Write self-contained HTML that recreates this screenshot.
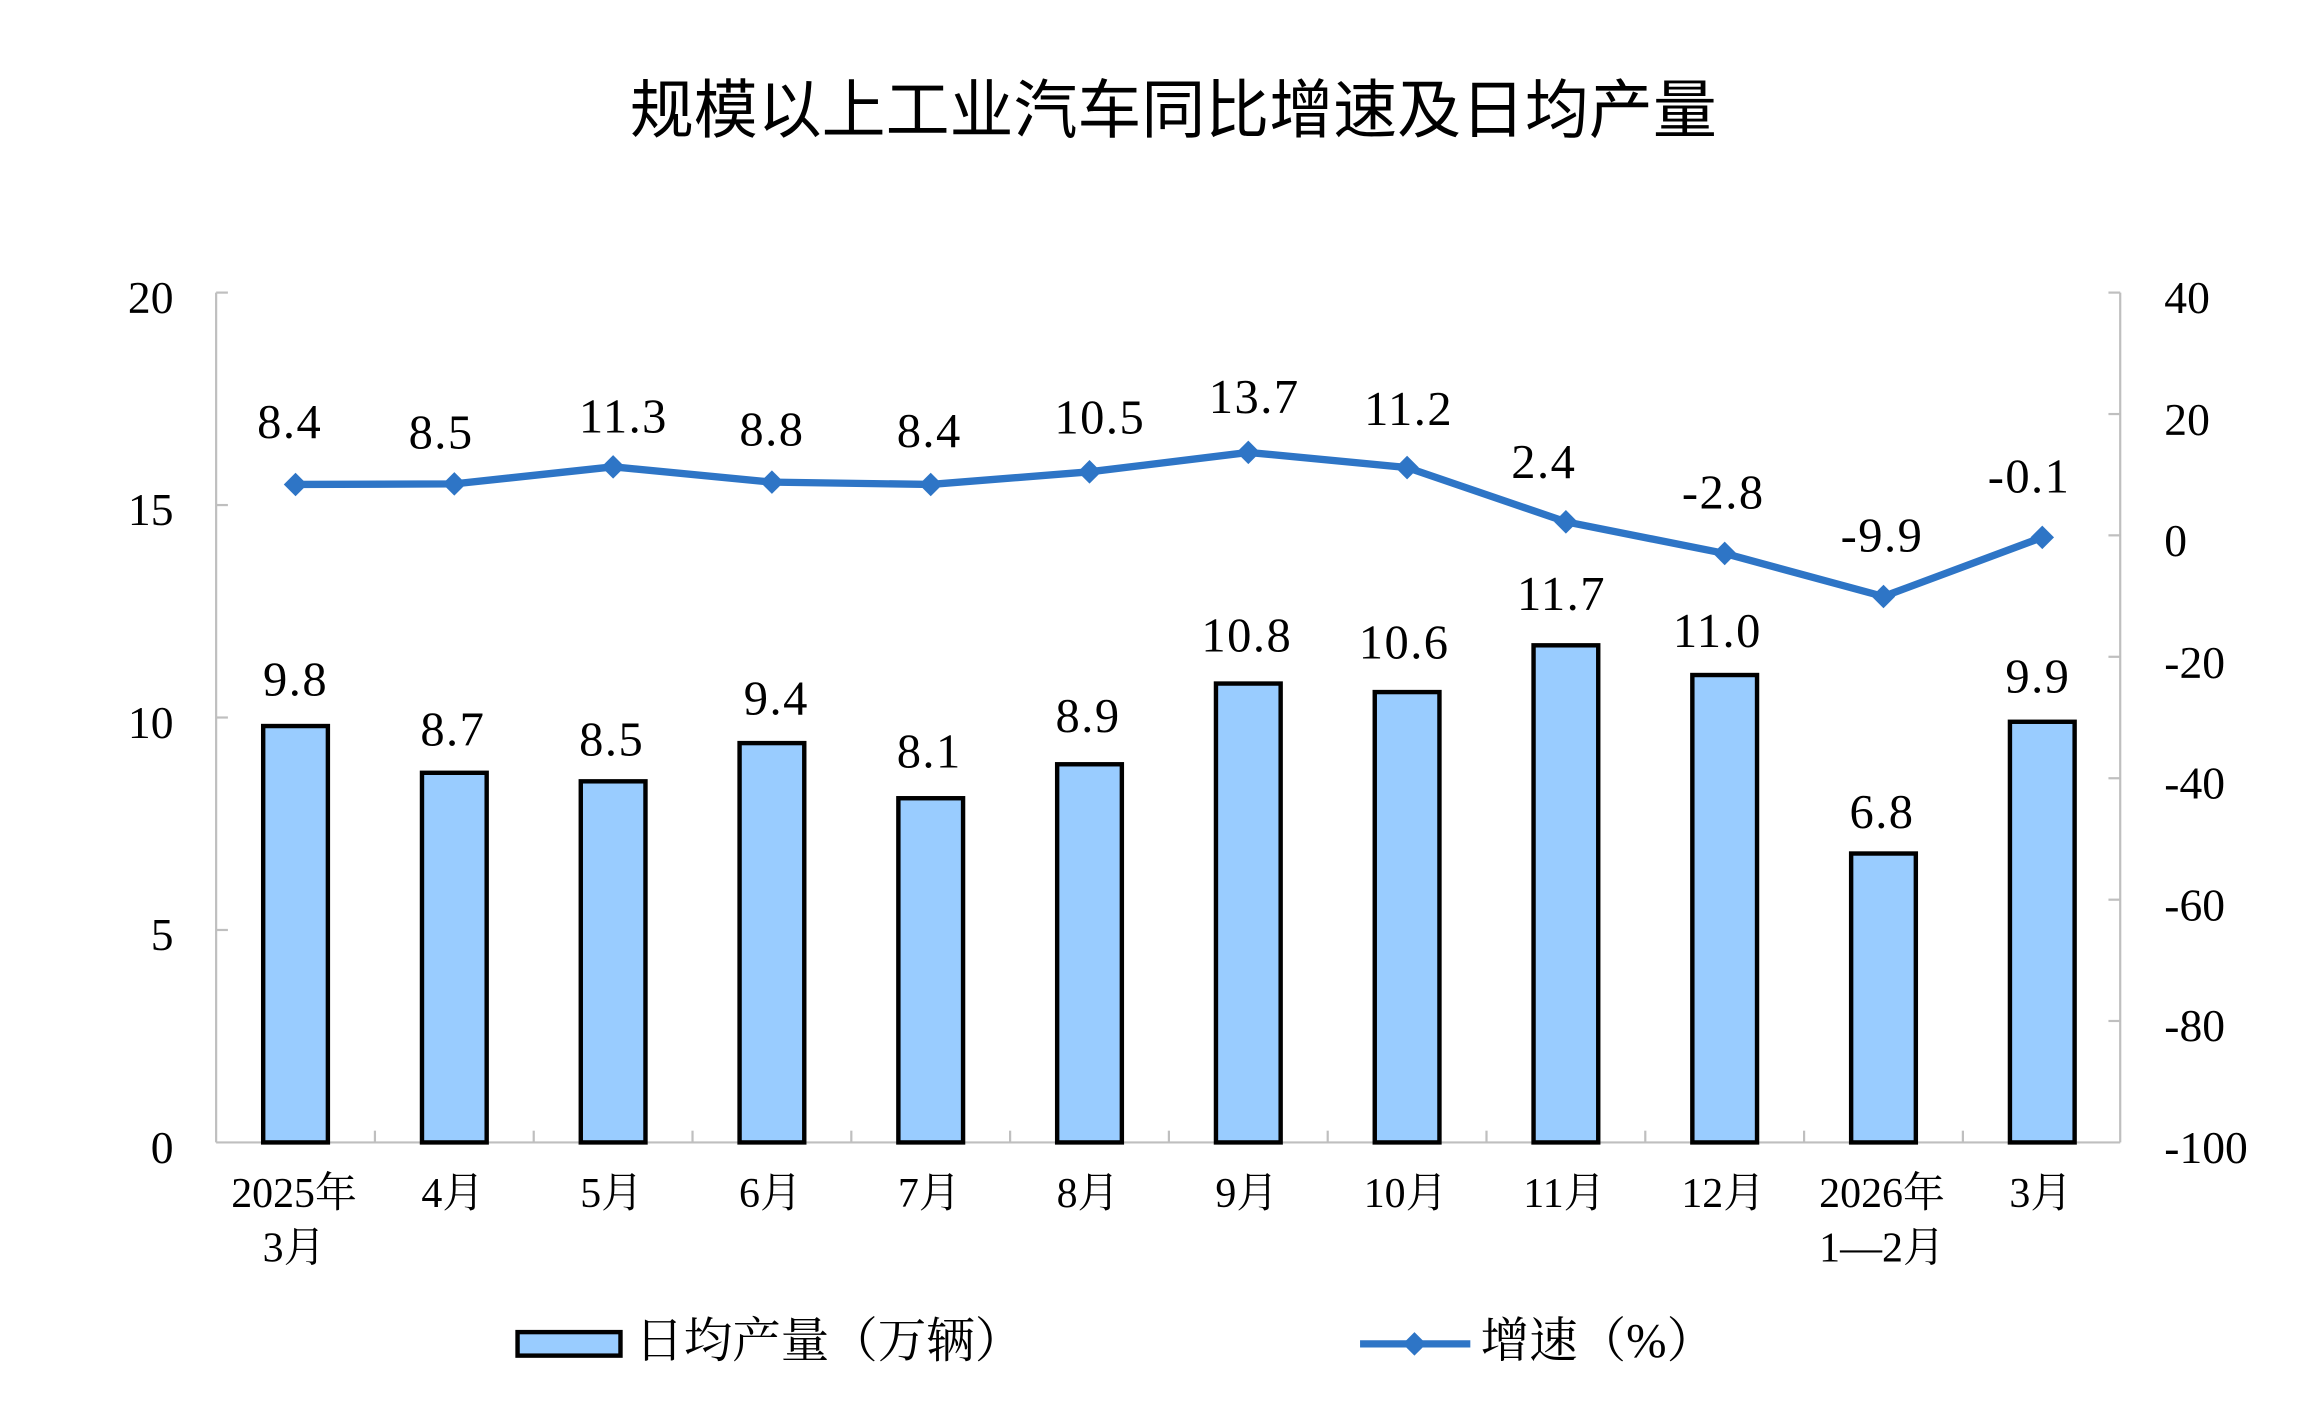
<!DOCTYPE html>
<html><head><meta charset="utf-8"><style>
html,body{margin:0;padding:0;background:#fff;}
svg{display:block;}
.n{font-family:"Liberation Serif","Noto Serif CJK SC",serif;font-size:33px;letter-spacing:1px;fill:#000;}
.a{font-family:"Liberation Serif","Noto Serif CJK SC",serif;font-size:31px;fill:#000;}
.c{font-family:"Liberation Serif","Noto Serif CJK SC",serif;font-size:28.5px;fill:#000;}
.t{font-family:"Liberation Sans","Noto Sans CJK SC",sans-serif;font-size:43.5px;fill:#000;}
.l{font-family:"Liberation Serif","Noto Serif CJK SC",serif;font-size:33px;fill:#000;}
</style></head><body>
<svg width="2304" height="1424" viewBox="0 0 1567 968.5" preserveAspectRatio="none" xmlns="http://www.w3.org/2000/svg">
<rect width="1567" height="968.5" fill="#fff"/>
<text class="t" x="798" y="90" text-anchor="middle">规模以上工业汽车同比增速及日均产量</text>
<g stroke="#bfbfbf" stroke-width="1.5" fill="none">
<line x1="147" y1="199" x2="147" y2="777"/>
<line x1="1442" y1="199" x2="1442" y2="777"/>
<line x1="147" y1="777" x2="1442" y2="777"/>
<line x1="147" y1="199" x2="155" y2="199"/><line x1="147" y1="343.5" x2="155" y2="343.5"/><line x1="147" y1="488" x2="155" y2="488"/><line x1="147" y1="632.5" x2="155" y2="632.5"/>
<line x1="1434" y1="199" x2="1442" y2="199"/><line x1="1434" y1="281.6" x2="1442" y2="281.6"/><line x1="1434" y1="364.1" x2="1442" y2="364.1"/><line x1="1434" y1="446.7" x2="1442" y2="446.7"/><line x1="1434" y1="529.3" x2="1442" y2="529.3"/><line x1="1434" y1="611.9" x2="1442" y2="611.9"/><line x1="1434" y1="694.4" x2="1442" y2="694.4"/>
<line x1="255" y1="769" x2="255" y2="777"/><line x1="363" y1="769" x2="363" y2="777"/><line x1="471" y1="769" x2="471" y2="777"/><line x1="579" y1="769" x2="579" y2="777"/><line x1="687" y1="769" x2="687" y2="777"/><line x1="795" y1="769" x2="795" y2="777"/><line x1="903" y1="769" x2="903" y2="777"/><line x1="1011" y1="769" x2="1011" y2="777"/><line x1="1119" y1="769" x2="1119" y2="777"/><line x1="1227" y1="769" x2="1227" y2="777"/><line x1="1335" y1="769" x2="1335" y2="777"/>
</g>
<g class="a" text-anchor="end">
<text x="118" y="213">20</text><text x="118" y="357">15</text><text x="118" y="502">10</text><text x="118" y="646">5</text><text x="118" y="791">0</text>
</g>
<g class="a">
<text x="1472" y="213">40</text><text x="1472" y="296">20</text><text x="1472" y="378">0</text><text x="1472" y="461">-20</text><text x="1472" y="543">-40</text><text x="1472" y="626">-60</text><text x="1472" y="708">-80</text><text x="1472" y="791">-100</text>
</g>
<g fill="#99ccff" stroke="#000" stroke-width="3">
<rect x="179" y="493.8" width="44" height="283.2"/>
<rect x="287" y="525.6" width="44" height="251.4"/>
<rect x="395" y="531.4" width="44" height="245.6"/>
<rect x="503" y="505.4" width="44" height="271.6"/>
<rect x="611" y="542.9" width="44" height="234.1"/>
<rect x="719" y="519.8" width="44" height="257.2"/>
<rect x="827" y="464.9" width="44" height="312.1"/>
<rect x="935" y="470.7" width="44" height="306.3"/>
<rect x="1043" y="438.9" width="44" height="338.1"/>
<rect x="1151" y="459.1" width="44" height="317.9"/>
<rect x="1259" y="580.5" width="44" height="196.5"/>
<rect x="1367" y="490.9" width="44" height="286.1"/>
</g>
<polyline fill="none" stroke="#2e75c6" stroke-width="5" stroke-linejoin="round" points="201,329.5 309,329.1 417,317.5 525,327.9 633,329.5 741,320.9 849,307.7 957,318.0 1065,354.9 1173,376.4 1281,405.7 1389,365.5"/>
<g fill="#2e75c6">
<path d="M201,321.5l8,8l-8,8l-8,-8z"/><path d="M309,321.1l8,8l-8,8l-8,-8z"/><path d="M417,309.5l8,8l-8,8l-8,-8z"/><path d="M525,319.9l8,8l-8,8l-8,-8z"/><path d="M633,321.5l8,8l-8,8l-8,-8z"/><path d="M741,312.9l8,8l-8,8l-8,-8z"/><path d="M849,299.7l8,8l-8,8l-8,-8z"/><path d="M957,310l8,8l-8,8l-8,-8z"/><path d="M1065,346.9l8,8l-8,8l-8,-8z"/><path d="M1173,368.4l8,8l-8,8l-8,-8z"/><path d="M1281,397.7l8,8l-8,8l-8,-8z"/><path d="M1389,357.5l8,8l-8,8l-8,-8z"/>
</g>
<g class="n" text-anchor="middle">
<text x="197" y="298">8.4</text><text x="300" y="305">8.5</text><text x="424" y="294">11.3</text><text x="525" y="303">8.8</text><text x="632" y="304">8.4</text><text x="748" y="295">10.5</text><text x="853" y="281">13.7</text><text x="958" y="289">11.2</text><text x="1050" y="325">2.4</text><text x="1172" y="346">-2.8</text><text x="1280" y="375">-9.9</text><text x="1380" y="335">-0.1</text>
<text x="201" y="473">9.8</text><text x="308" y="507">8.7</text><text x="416" y="514">8.5</text><text x="528" y="486">9.4</text><text x="632" y="522">8.1</text><text x="740" y="498">8.9</text><text x="848" y="443">10.8</text><text x="955" y="448">10.6</text><text x="1062" y="415">11.7</text><text x="1168" y="440">11.0</text><text x="1280" y="563">6.8</text><text x="1386" y="471">9.9</text>
</g>
<g class="c" text-anchor="middle">
<text x="200" y="821">2025年</text><text x="200" y="858">3月</text>
<text x="308" y="821">4月</text><text x="416" y="821">5月</text><text x="524" y="821">6月</text><text x="632" y="821">7月</text><text x="740" y="821">8月</text><text x="848" y="821">9月</text><text x="956" y="821">10月</text><text x="1064" y="821">11月</text><text x="1172" y="821">12月</text>
<text x="1280" y="821">2026年</text><text x="1280" y="858">1—2月</text>
<text x="1388" y="821">3月</text>
</g>
<rect x="352" y="906" width="70" height="16" fill="#99ccff" stroke="#000" stroke-width="3"/>
<text class="l" x="432" y="923">日均产量（万辆）</text>
<line x1="925" y1="914" x2="1000" y2="914" stroke="#2e75c6" stroke-width="5"/>
<path d="M962,906l8,8l-8,8l-8,-8z" fill="#2e75c6"/>
<text class="l" x="1007" y="923">增速（%）</text>
</svg>
</body></html>
